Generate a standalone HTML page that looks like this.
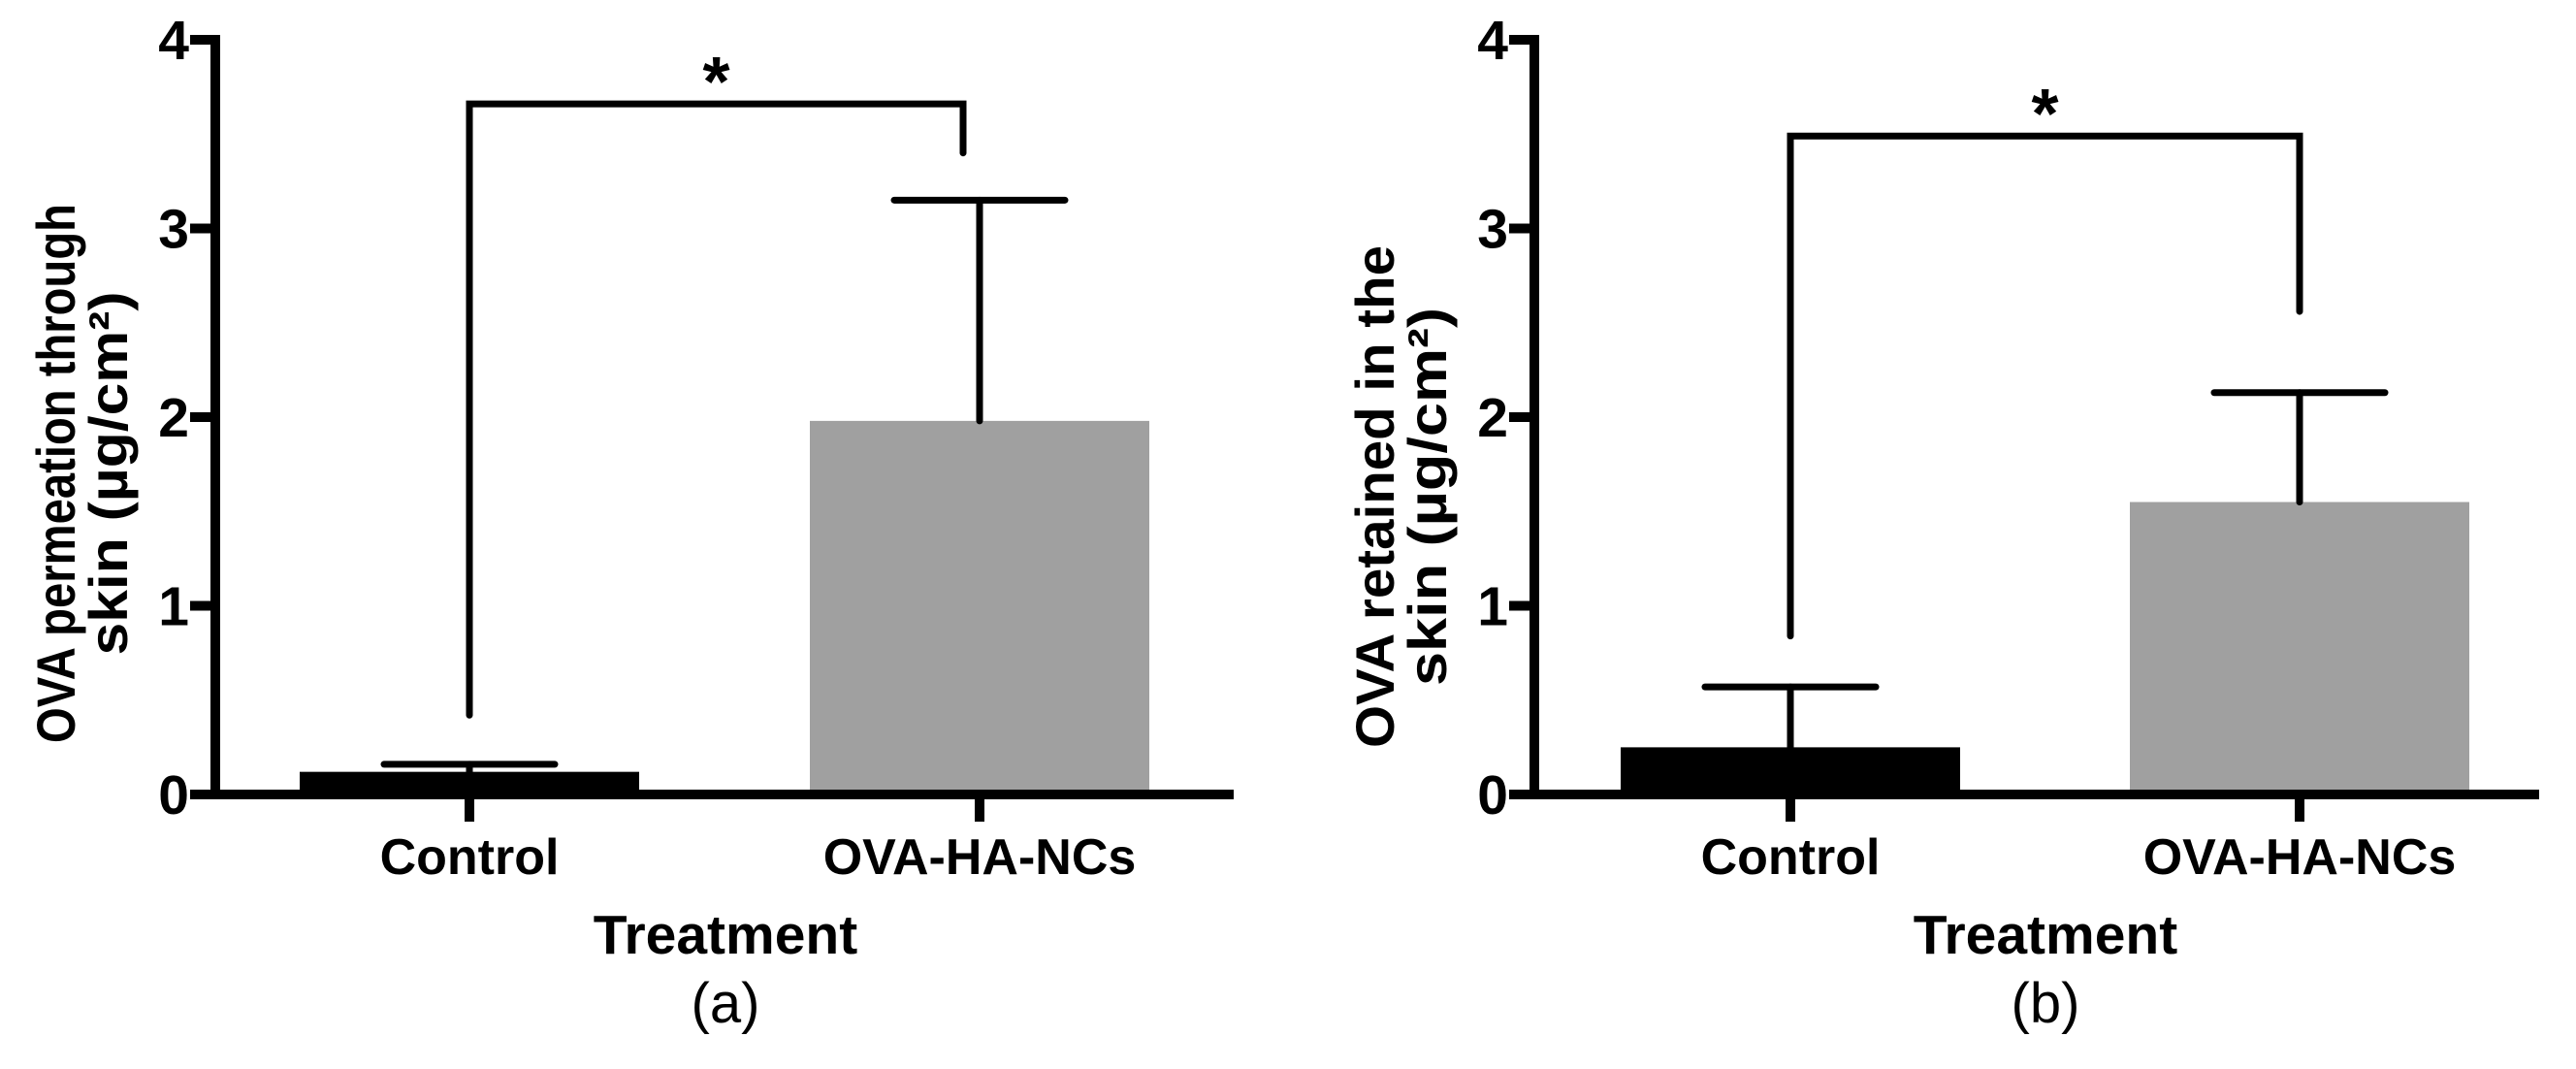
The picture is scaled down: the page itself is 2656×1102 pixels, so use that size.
<!DOCTYPE html>
<html><head><meta charset="utf-8"><style>
html,body{margin:0;padding:0;background:#fff;}
svg{display:block;font-family:"Liberation Sans",Arial,sans-serif;}
</style></head><body>
<svg id="chart" width="2656" height="1102" viewBox="0 0 2656 1102" xmlns="http://www.w3.org/2000/svg"></svg>
<script>
const categories = ["Control", "OVA-HA-NCs"];
const meansA = [0.12, 1.98];
const errsA = [0.16, 3.15];
const meansB = [0.25, 1.55];
const errsB = [0.57, 2.13];
const yTicks = [0, 1, 2, 3, 4];
const bracketA = [0.42, 3.66, 3.40];
const bracketB = [0.84, 3.49, 2.56];

const NS = "http://www.w3.org/2000/svg";
const svg = document.getElementById("chart");
function mk(tag, attrs, parent) {
  const e = document.createElementNS(NS, tag);
  for (const k in attrs) e.setAttribute(k, attrs[k]);
  (parent || svg).appendChild(e);
  return e;
}

function panel(cfg) {
  const g = mk("g", {});
  
  
  const y0 = 819, unit = 194.5;
  const ys = v => y0 - v * unit;
  const xs = i => cfg.centers[i];
  const barW = 350;
  const fills = ["#000000", "#a0a0a0"];
  cfg.means.forEach((m, i) => {
    const r = mk("rect", {x: xs(i) - barW / 2, y: ys(m), width: barW, height: y0 - ys(m), fill: fills[i]}, g);
    
    
  });
  cfg.errs.forEach((e, i) => {
    const top = ys(e), base = ys(cfg.means[i]);
    const eg = mk("g", {stroke: "#000", "stroke-width": 7, "stroke-linecap": "round"}, g);
    
    
    mk("line", {x1: xs(i), y1: base, x2: xs(i), y2: top}, eg);
    mk("line", {x1: xs(i) - 88, y1: top, x2: xs(i) + 88, y2: top}, eg);
  });
  const ax = mk("g", {stroke: "#000", "stroke-width": 10}, g);
  
  
  mk("line", {x1: cfg.axisX, y1: ys(4) - 5, x2: cfg.axisX, y2: y0 + 5}, ax);
  mk("line", {x1: cfg.axisX - 5, y1: y0, x2: cfg.axisEnd, y2: y0}, ax);
  yTicks.forEach(t => {
    mk("line", {x1: cfg.axisX - 26, y1: ys(t), x2: cfg.axisX, y2: ys(t)}, ax);
    const tl = mk("text", {x: cfg.axisX - 27, y: ys(t) + 20, "text-anchor": "end", "font-size": 57, "font-weight": "bold"}, g);
    tl.textContent = t;
    
    
  });
  categories.forEach((c, i) => {
    mk("line", {x1: xs(i), y1: y0, x2: xs(i), y2: y0 + 28}, ax);
    const cl = mk("text", {x: xs(i), y: 901, "text-anchor": "middle", "font-size": 52, "font-weight": "bold"}, g);
    cl.textContent = c;
    
    
  });
  const b = cfg.bracket;
  const bp = mk("polyline", {points: `${xs(0)},${ys(b[0])} ${xs(0)},${ys(b[1])} ${xs(1) + cfg.rightOff},${ys(b[1])} ${xs(1) + cfg.rightOff},${ys(b[2])}`, fill: "none", stroke: "#000", "stroke-width": 7, "stroke-linecap": "round"}, g);
  
  
  const st = mk("text", {x: (xs(0) + xs(1) + cfg.rightOff) / 2, y: ys(b[1]) + 2, "text-anchor": "middle", "font-size": 72, "font-weight": "bold"}, g);
  st.textContent = "*";
  
  
  const yt = mk("text", {transform: `translate(${cfg.axisX - 145},${cfg.titleY}) rotate(-90)`, "text-anchor": "middle", "font-size": 56, "font-weight": "bold", textLength: cfg.len1, lengthAdjust: "spacingAndGlyphs"}, g);
  yt.textContent = cfg.title1;
  
  
  const yt2 = mk("text", {transform: `translate(${cfg.axisX - 91},${cfg.titleY}) rotate(-90)`, "text-anchor": "middle", "font-size": 56, "font-weight": "bold", textLength: cfg.len2, lengthAdjust: "spacingAndGlyphs"}, g);
  yt2.textContent = cfg.title2;
  
  
  const xt = mk("text", {x: cfg.labelX, y: 983, "text-anchor": "middle", "font-size": 57, "font-weight": "bold"}, g);
  xt.textContent = "Treatment";
  
  
  const pl = mk("text", {x: cfg.labelX, y: 1054, "text-anchor": "middle", "font-size": 58}, g);
  pl.textContent = cfg.letter;
  
  
}

panel({name: "panel-a", axisX: 222, axisEnd: 1272, centers: [484, 1010], means: meansA, errs: errsA,
  bracket: bracketA, rightOff: -17, title1: "OVA permeation through", title2: "skin (\u00b5g/cm\u00b2)",
  len1: 556, len2: 375, titleY: 488, labelX: 748, letter: "(a)"});
panel({name: "panel-b", axisX: 1582, axisEnd: 2618, centers: [1846, 2371], means: meansB, errs: errsB,
  bracket: bracketB, rightOff: 0, title1: "OVA retained in the", title2: "skin (\u00b5g/cm\u00b2)",
  len1: 518, len2: 390, titleY: 512, labelX: 2109, letter: "(b)"});
</script>
</body></html>
